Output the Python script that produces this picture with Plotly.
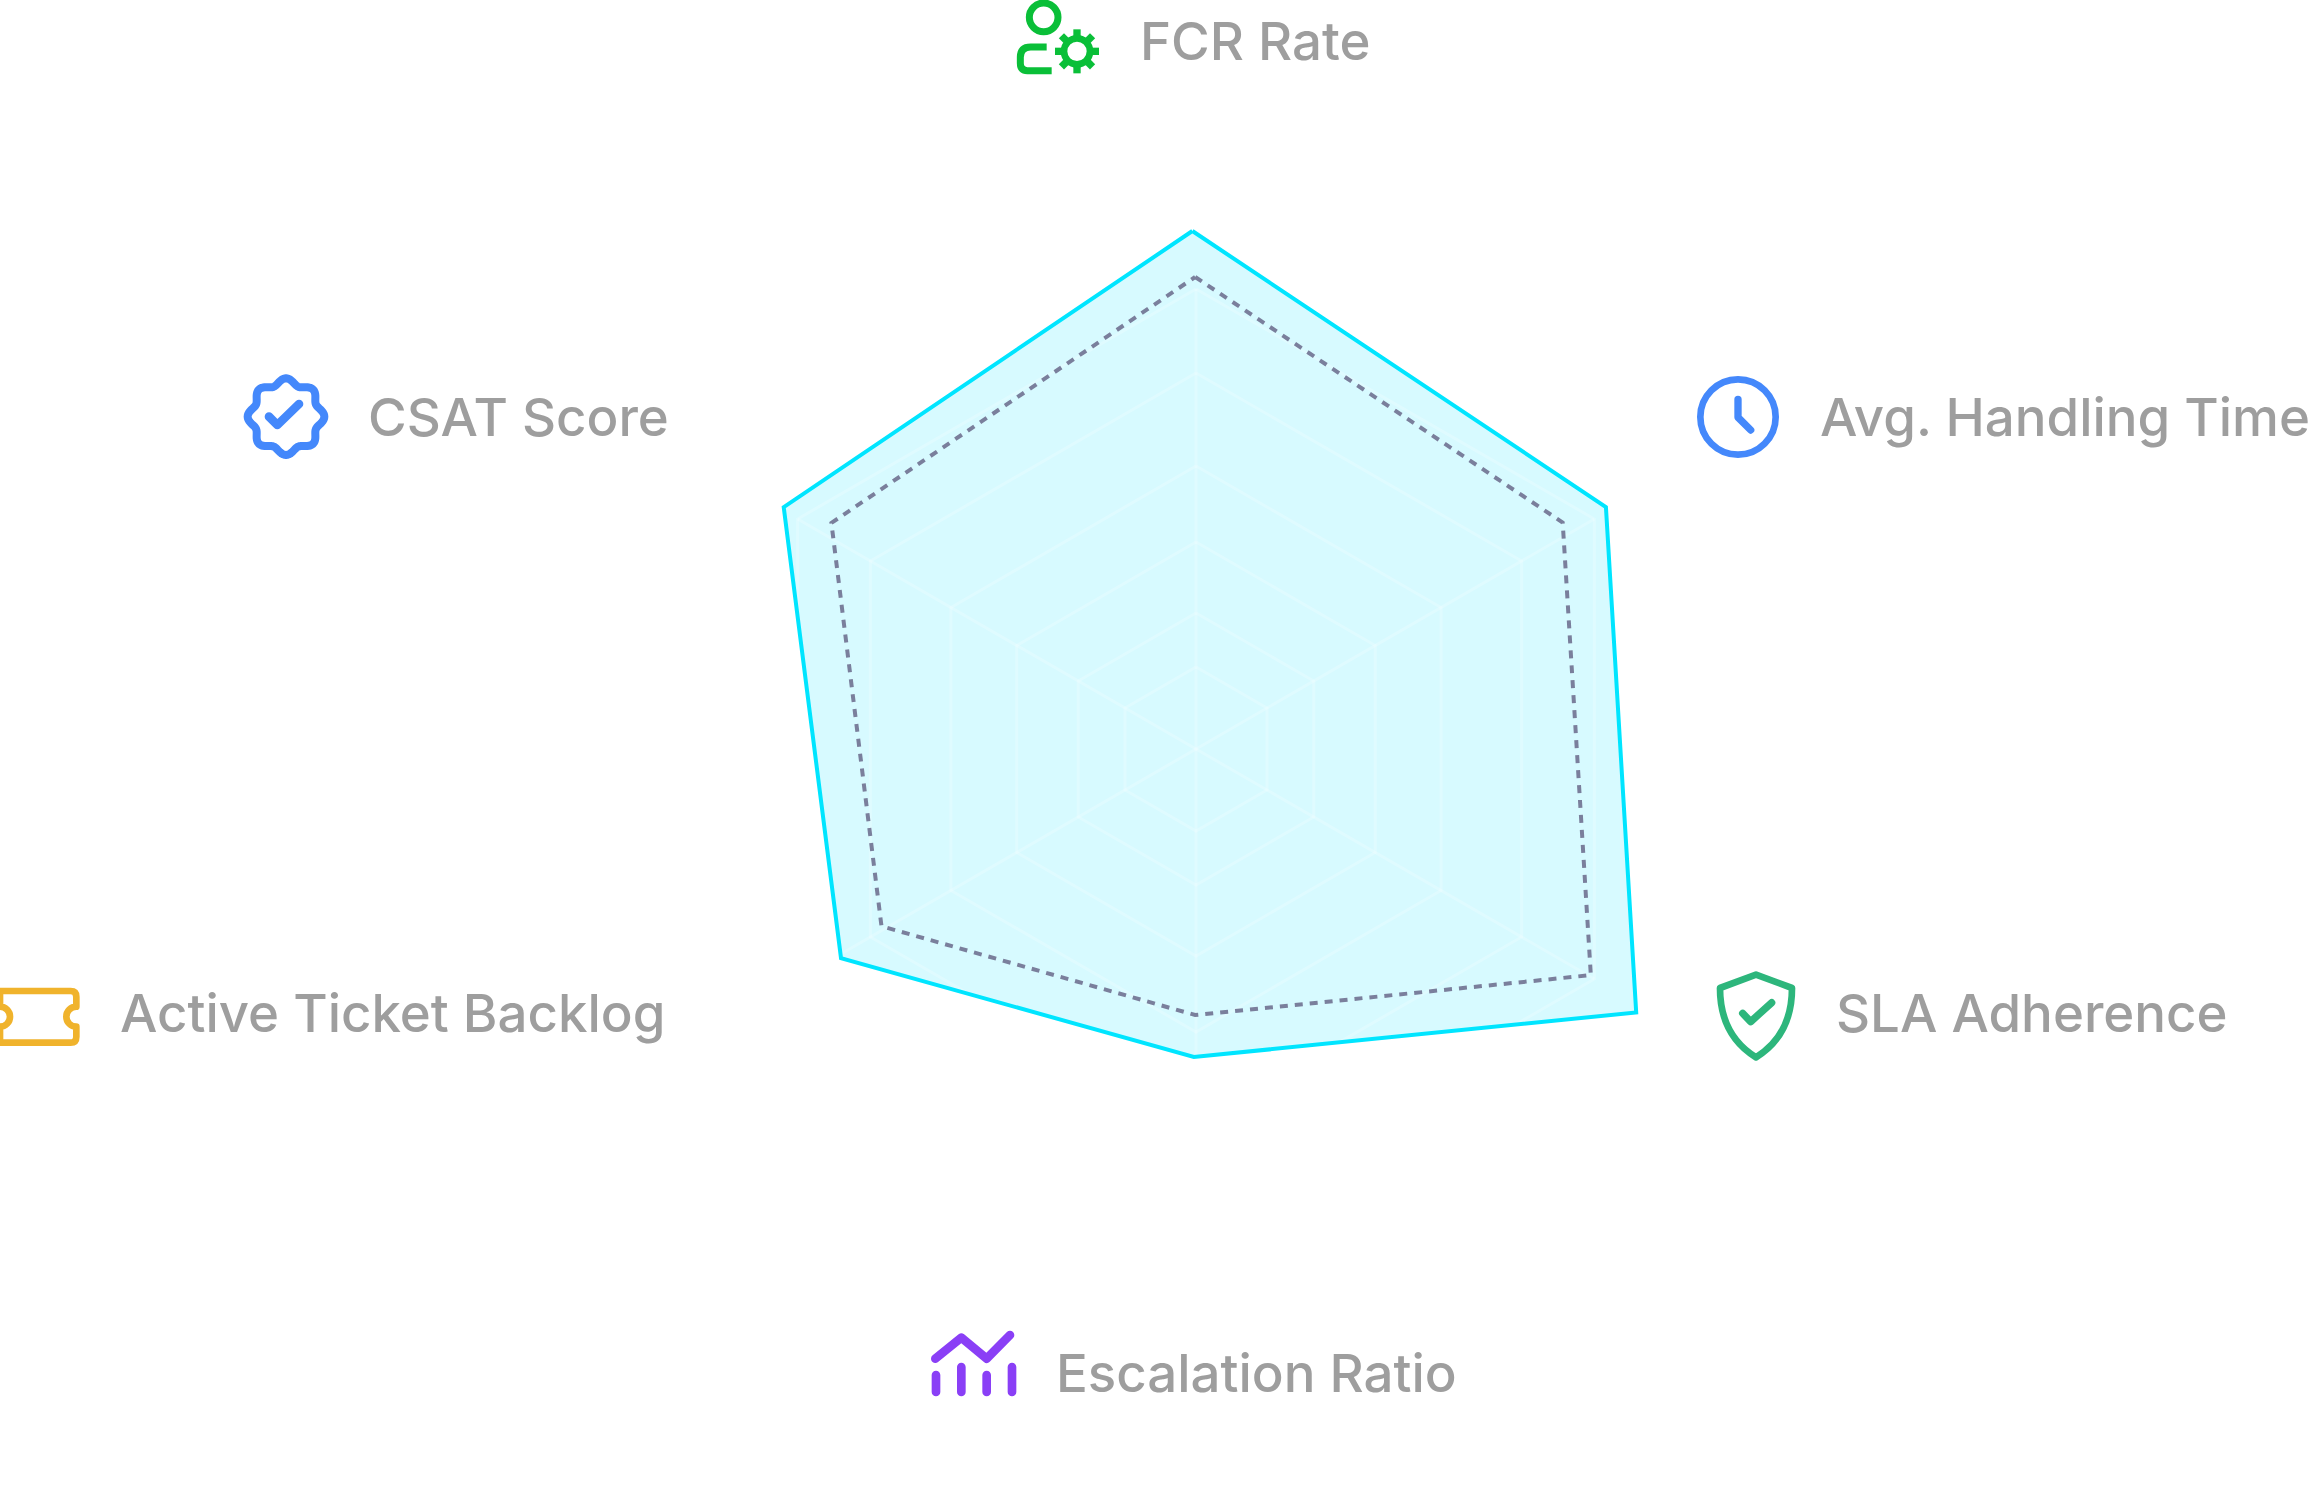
import base64
import plotly.graph_objects as go
import math

W, H = 2312, 1499
CX, CY, RMAX = 1196, 749, 560

categories = ["FCR Rate", "Avg. Handling Time", "SLA Adherence",
              "Escalation Ratio", "Active Ticket Backlog", "CSAT Score"]
spoke_angles = [0, 60, 120, 180, 240, 300]
ring_levels = [82, 136, 207, 283, 376, 460]

current_values = [518, 476, 513, 308, 412, 478]
current_angles = [359.6, 59.45, 120.9, 180.4, 239.5, 300.4]
target_values = [472, 431, 455, 266, 361, 429]
target_angles = [359.9, 58.3, 119.8, 180.2, 240.6, 301.8]

FILL = "rgb(215,250,255)"
CYAN = "#00e5ff"
DASH = "#7a7f9c"
GRID = "rgba(255,255,255,0.22)"
TEXT = "#9e9e9e"

fig = go.Figure()


def closed(v):
    return list(v) + [v[0]]


fig.add_trace(go.Scatterpolar(r=closed(current_values), theta=closed(current_angles),
                              mode="lines", fill="toself", fillcolor=FILL,
                              line=dict(width=0, color=FILL), hoverinfo="skip"))
for lvl in ring_levels:
    fig.add_trace(go.Scatterpolar(r=[lvl] * 7, theta=closed(spoke_angles), mode="lines",
                                  line=dict(color=GRID, width=3), hoverinfo="skip"))
for a in spoke_angles:
    fig.add_trace(go.Scatterpolar(r=[0, ring_levels[-1]], theta=[a, a], mode="lines",
                                  line=dict(color=GRID, width=3), hoverinfo="skip"))
fig.add_trace(go.Scatterpolar(r=closed(current_values), theta=closed(current_angles),
                              mode="lines", line=dict(color=CYAN, width=4)))
fig.add_trace(go.Scatterpolar(r=closed(target_values), theta=closed(target_angles),
                              mode="lines", line=dict(color=DASH, width=4, dash="8px,7px")))

# text labels: category, left edge x, centre y (page pixels)
label_x = [1138, 1818, 1834, 1054, 118, 366]
label_y = [41, 417, 1013, 1373, 1013, 417]
annotations = [dict(text=c, x=x / W, y=1 - y / H, xref="paper", yref="paper",
                    xanchor="left", yanchor="middle", showarrow=False,
                    font=dict(family="Inter", size=52.8, weight=500, color=TEXT))
               for c, x, y in zip(categories, label_x, label_y)]


def icon(x, y, w, h, body):
    svg = (f'<svg xmlns="http://www.w3.org/2000/svg" width="{w}" height="{h}" '
           f'viewBox="0 0 {w*3} {h*3}" fill="none" stroke-linecap="round" '
           f'stroke-linejoin="round">{body}</svg>')
    src = "data:image/svg+xml;base64," + base64.b64encode(svg.encode()).decode()
    return dict(source=src, xref="paper", yref="paper", x=x / W, y=1 - y / H,
                sizex=w / W, sizey=h / H, xanchor="left", yanchor="top",
                sizing="stretch", layer="above")


# FCR icon
gear_teeth = "".join(
    f'<line x1="{351+46*math.cos(i*math.pi/4):.1f}" y1="{154+46*math.sin(i*math.pi/4):.1f}" '
    f'x2="{351+66*math.cos(i*math.pi/4):.1f}" y2="{154+66*math.sin(i*math.pi/4):.1f}" '
    f'stroke-width="22" stroke-linecap="butt"/>' for i in range(8))
fcr = (f'<g stroke="#0abf38" stroke-width="21">'
       f'<circle cx="251" cy="52" r="43"/>'
       f'<path d="M260 141 H212 Q181 141 181 172 V190 Q181 212 202 212 H275" stroke-linecap="butt"/>'
       f'<circle cx="351" cy="154" r="39" stroke-width="20"/>{gear_teeth}</g>')

# badge icon
pts = []
for i in range(160):
    t = 2 * math.pi * i / 160
    r = 106 + 9 * math.cos(8 * t)
    pts.append(f"{198 + r*math.cos(t):.1f},{170 + r*math.sin(t):.1f}")
badge = (f'<g stroke="#4488fb"><polygon points="{" ".join(pts)}" stroke-width="24"/>'
         f'<path d="M147 170 L172 195 L237 132" stroke-width="26"/></g>')

clock = ('<g stroke="#4488fb" stroke-width="20"><circle cx="174" cy="171" r="113"/>'
         '<path d="M174 118 V172 L212 210" stroke-width="22"/></g>')

ticket = ('<path stroke="#f0b32c" stroke-width="20" d="M0 63 H212 Q229 63 229 80 V110 '
          'A30 30 0 0 0 229 170 V200 Q229 218 212 218 H0 V170 A30 30 0 0 0 0 110 Z"/>')

shield = ('<g stroke="#2db67c" stroke-width="20">'
          '<path d="M168 44 L60 84 C60 180 100 250 168 292 C236 250 276 180 276 84 Z"/>'
          '<path d="M128 160 L152 185 L215 128" stroke-width="22"/></g>')

trend = ('<g stroke="#8a3ff6"><path stroke-width="26" d="M46 113 L124 50 L200 113 L270 42"/>'
         '<path stroke-width="26" d="M48 162 V213 M124 138 V213 M200 162 V213 M276 138 V213"/></g>')

images = [icon(960, 0, 146, 90, fcr), icon(220, 360, 120, 100, badge),
          icon(1680, 360, 120, 100, clock), icon(0, 970, 120, 90, ticket),
          icon(1700, 960, 120, 110, shield), icon(920, 1321, 120, 100, trend)]

fig.update_layout(
    width=W, height=H, margin=dict(l=0, r=0, t=0, b=0),
    paper_bgcolor="white", plot_bgcolor="white", showlegend=False,
    annotations=annotations, images=images,
    polar=dict(
        domain=dict(x=[(CX - RMAX) / W, (CX + RMAX) / W],
                    y=[1 - (CY + RMAX) / H, 1 - (CY - RMAX) / H]),
        bgcolor="rgba(0,0,0,0)",
        radialaxis=dict(range=[0, RMAX], visible=False),
        angularaxis=dict(rotation=90, direction="clockwise", visible=False,
                         thetaunit="degrees"),
    ),
)
fig.write_html("out.html", config=dict(displayModeBar=False),
               post_script="document.body.style.margin='0';document.body.style.overflow='hidden';")
